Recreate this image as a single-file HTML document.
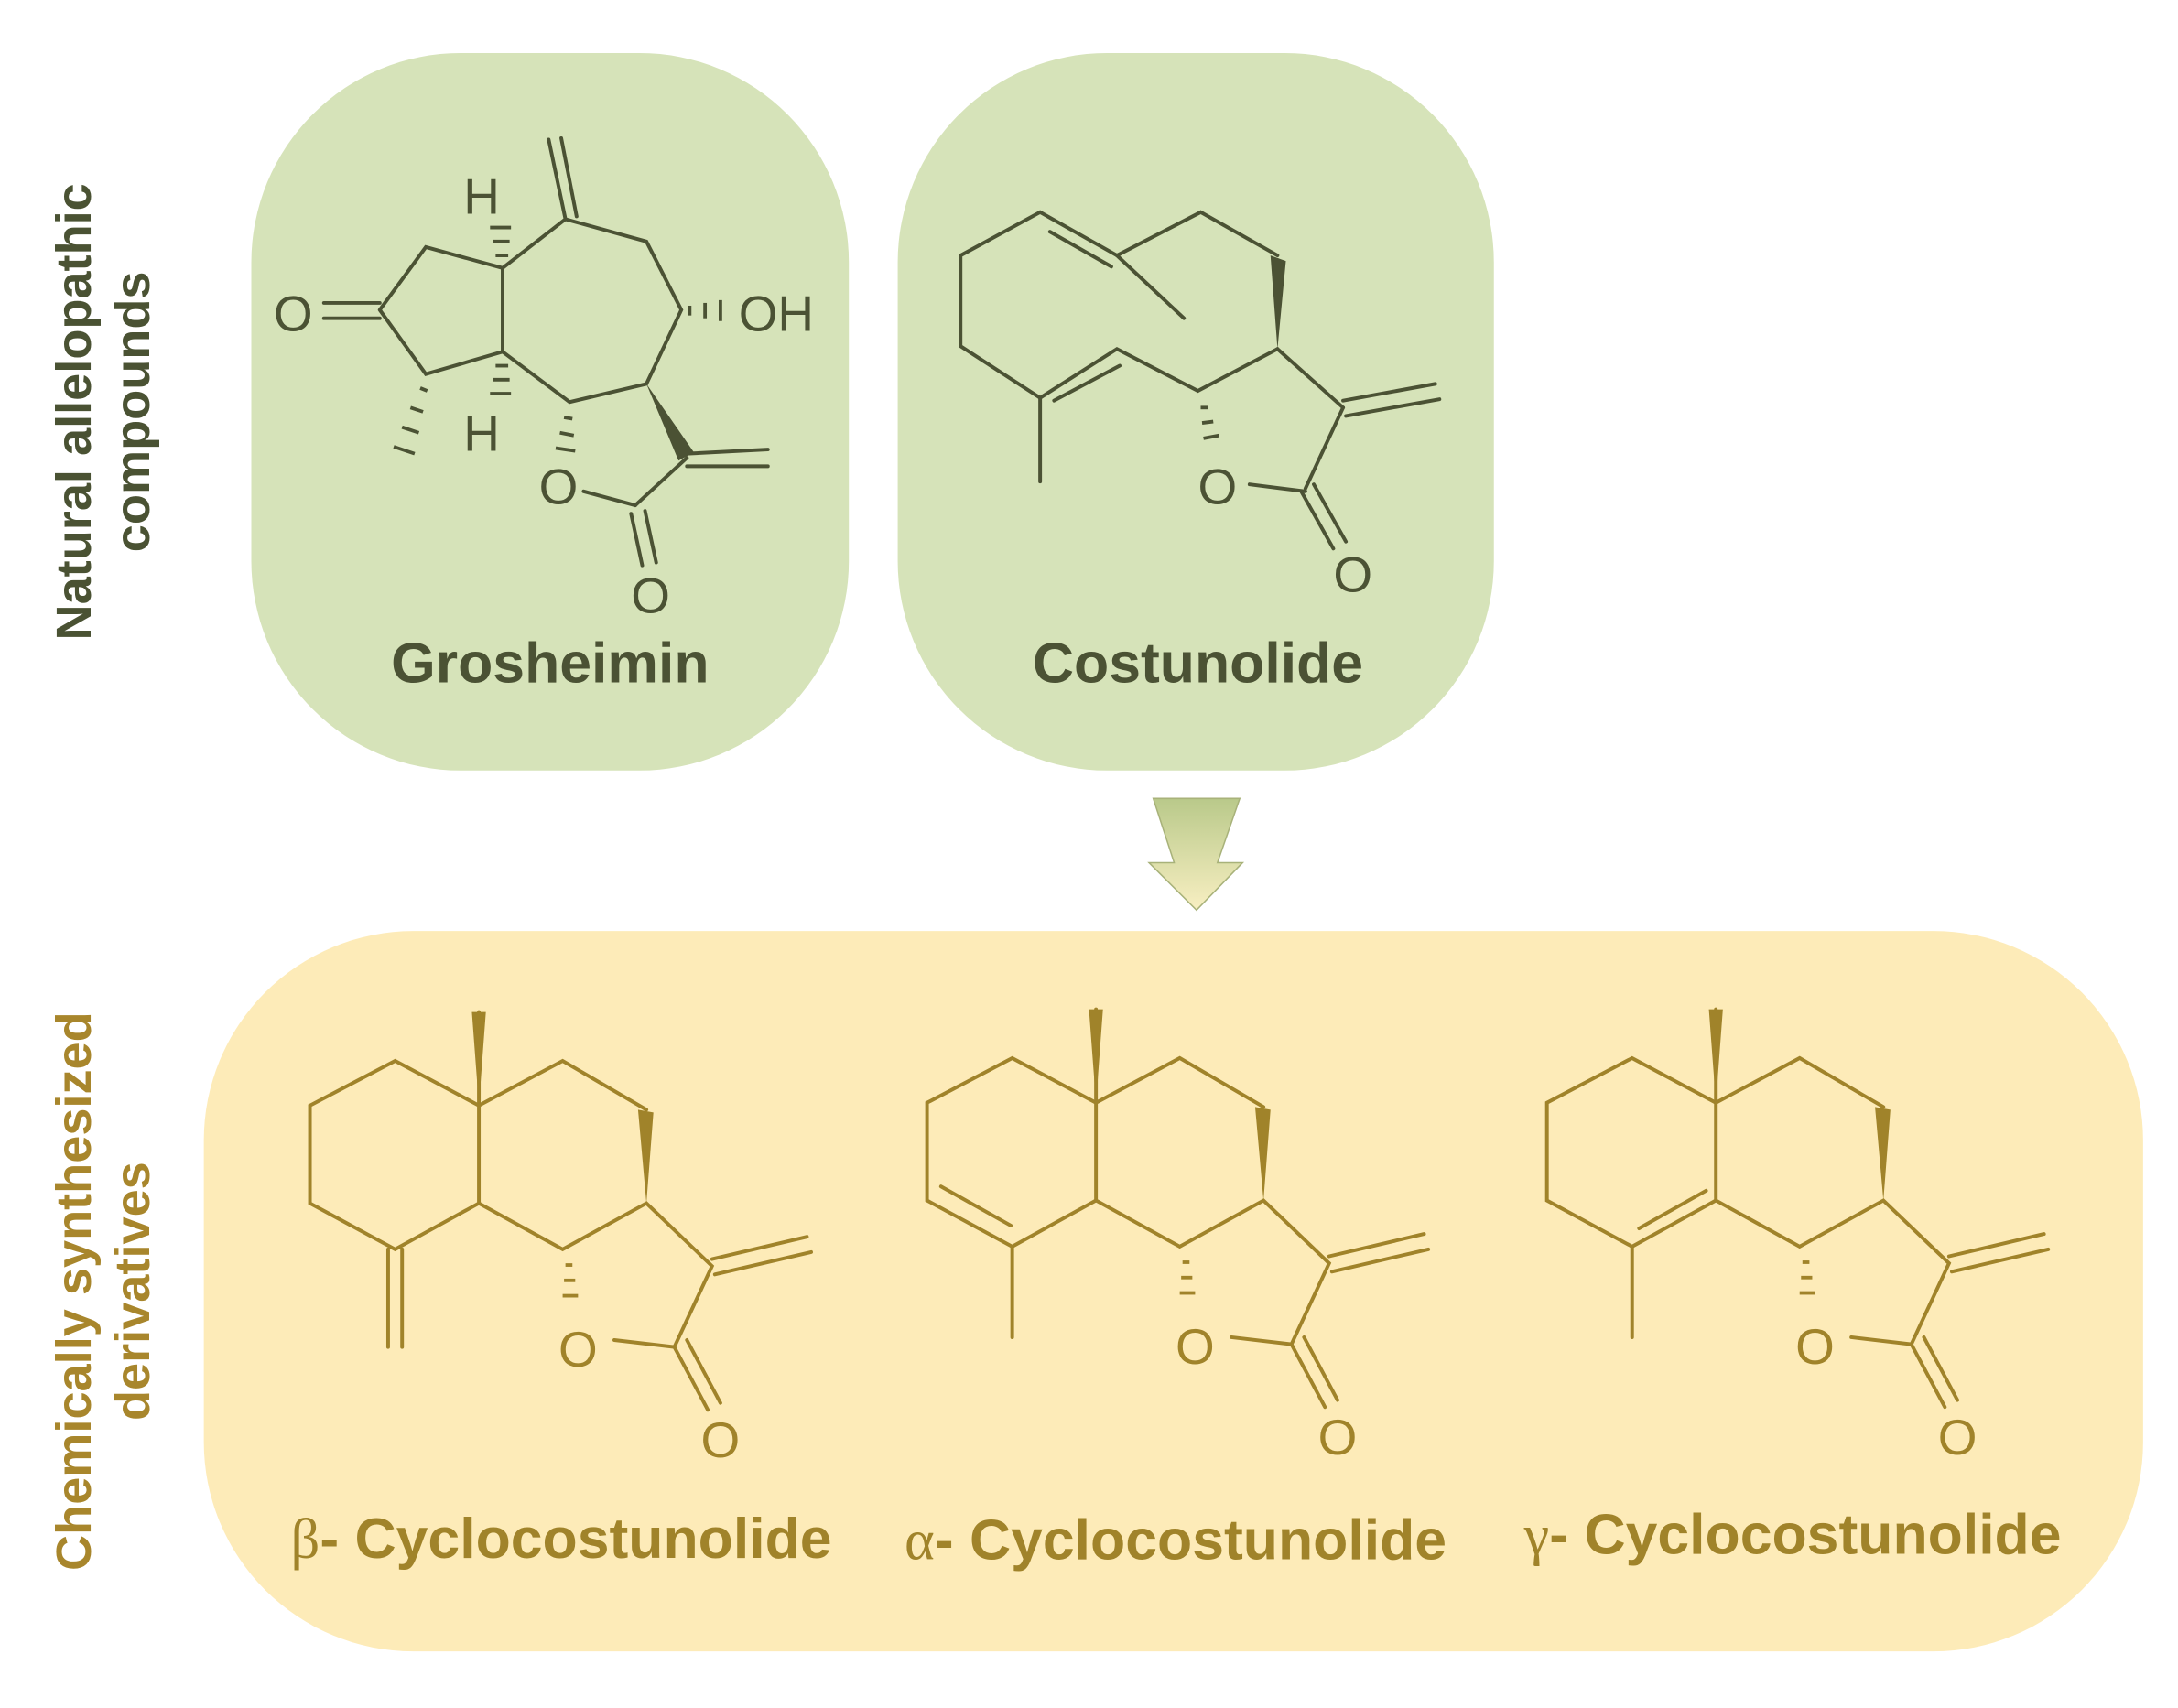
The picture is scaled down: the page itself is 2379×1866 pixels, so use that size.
<!DOCTYPE html>
<html><head><meta charset="utf-8"><style>
html,body{margin:0;padding:0;background:#fff;}
svg{display:block;}
text{font-family:"Liberation Sans",sans-serif;}
</style></head><body>
<svg width="2379" height="1866" viewBox="0 0 1560 1223.6" preserveAspectRatio="none" xmlns="http://www.w3.org/2000/svg">
<defs>
<linearGradient id="ag" x1="0" y1="0" x2="0" y2="1">
<stop offset="0" stop-color="#b9c98a"/><stop offset="1" stop-color="#f8efc2"/>
</linearGradient>
</defs>
<rect x="180" y="38" width="428" height="514" rx="150" fill="#d6e3b9"/>
<rect x="643" y="38" width="427" height="514" rx="150" fill="#d6e3b9"/>
<rect x="146" y="667" width="1389" height="516" rx="150" fill="#fdebb8"/>
<polygon points="826,572 888,572 872,618 890,618 857,652 823,618 841,618" fill="url(#ag)" stroke="#a8b27a" stroke-width="1"/>

<g font-weight="bold" font-size="35.5" text-anchor="middle">
<text transform="translate(65,295) rotate(-90)" fill="#4a5233">Natural allelopathic</text>
<text transform="translate(107,295) rotate(-90)" fill="#4a5233">compounds</text>
<text transform="translate(65,925) rotate(-90)" fill="#a8862c">Chemically synthesized</text>
<text transform="translate(107,925) rotate(-90)" fill="#a8862c">derivatives</text>
</g>

<!-- Grosheimin -->
<g stroke="#4b5234" stroke-width="2.6" fill="none" stroke-linecap="round">
<polyline points="272,222 305,177 360,192 360,252 305,268 272,222"/>
<line x1="272" y1="217" x2="232" y2="217"/><line x1="272" y1="228" x2="232" y2="228"/>
<polyline points="360,192 405,157 463,173 488,222 463,275 408,288 360,252"/>
<line x1="405" y1="157" x2="393" y2="100"/><line x1="413" y1="155" x2="402" y2="99"/>
<line x1="418" y1="352" x2="455" y2="362"/>
<line x1="455" y1="362" x2="492" y2="328"/>
<line x1="452" y1="368" x2="460" y2="405"/><line x1="462" y1="366" x2="470" y2="403"/>
<line x1="492" y1="325" x2="550" y2="322"/><line x1="492" y1="334" x2="550" y2="334"/>
</g>
<polygon points="463,275 486,330 497,324" fill="#4b5234"/>
<g stroke="#4b5234" stroke-width="2.5">
<line x1="494" y1="219" x2="494" y2="226"/><line x1="505" y1="217" x2="505" y2="228"/><line x1="516" y1="215" x2="516" y2="230"/>
<line x1="355" y1="183" x2="364" y2="183"/><line x1="353" y1="173" x2="365" y2="173"/><line x1="351" y1="163" x2="366" y2="163"/>
<line x1="355" y1="262" x2="364" y2="262"/><line x1="353" y1="272" x2="365" y2="272"/><line x1="351" y1="282" x2="366" y2="282"/>
<line x1="301" y1="278" x2="306" y2="280"/><line x1="294" y1="292" x2="303" y2="295"/><line x1="288" y1="306" x2="300" y2="310"/><line x1="282" y1="320" x2="297" y2="325"/>
<line x1="404" y1="299" x2="410" y2="300"/><line x1="401" y1="310" x2="411" y2="312"/><line x1="398" y1="321" x2="412" y2="323"/>
</g>
<g fill="#4b5234" font-size="36">
<text x="196" y="237">O</text>
<text x="529" y="237">OH</text>
<text x="332" y="153">H</text>
<text x="332" y="323">H</text>
<text x="386" y="361">O</text>
<text x="452" y="439">O</text>
</g>
<text x="394" y="489" font-size="41" font-weight="bold" fill="#4b5234" text-anchor="middle">Grosheimin</text>

<!-- Costunolide -->
<g stroke="#4b5234" stroke-width="2.6" fill="none" stroke-linecap="round">
<polyline points="800,183 745,152 688,183 688,248 745,285 800,250 858,280 915,250"/>
<polyline points="915,183 860,152 800,183 848,228"/>
<line x1="752" y1="166" x2="796" y2="191"/>
<line x1="755" y1="287" x2="802" y2="262"/>
<line x1="745" y1="285" x2="745" y2="345"/>
<line x1="915" y1="250" x2="962" y2="292"/>
<line x1="962" y1="292" x2="935" y2="350"/>
<line x1="895" y1="347" x2="935" y2="352"/>
<line x1="932" y1="352" x2="955" y2="393"/><line x1="941" y1="347" x2="964" y2="388"/>
<line x1="962" y1="287" x2="1028" y2="275"/><line x1="964" y1="298" x2="1031" y2="286"/>
</g>
<polygon points="915,250 910,183 921,187" fill="#4b5234"/>
<g stroke="#4b5234" stroke-width="2.5">
<line x1="860" y1="292" x2="865" y2="292"/><line x1="861" y1="303" x2="869" y2="302"/><line x1="862" y1="314" x2="873" y2="312"/>
</g>
<g fill="#4b5234" font-size="36">
<text x="858" y="361">O</text><text x="955" y="424">O</text>
</g>
<text x="858" y="489" font-size="41" font-weight="bold" fill="#4b5234" text-anchor="middle">Costunolide</text>

<defs>
<g id="core">
<polyline points="343,792 283,760 222,792 222,862 283,895 343,862" />
<polyline points="343,725 343,862 403,895 463,862 510,907 483,965 440,960"/>
<polyline points="343,792 403,760 463,795"/>
<line x1="483" y1="965" x2="507" y2="1010"/><line x1="492" y1="960" x2="516" y2="1005"/>
<line x1="510" y1="902" x2="578" y2="886"/><line x1="512" y1="913" x2="581" y2="897"/>
</g>
</defs>
<g fill="none" stroke="#a0832a" stroke-width="2.6" stroke-linecap="round">
<use href="#core"/>
<line x1="278" y1="895" x2="278" y2="965"/><line x1="288" y1="895" x2="288" y2="965"/>
</g>
<g transform="translate(442,-2)" fill="none" stroke="#a0832a" stroke-width="2.6" stroke-linecap="round">
<use href="#core"/>
<line x1="232" y1="852" x2="282" y2="880"/>
<line x1="283" y1="895" x2="283" y2="960"/>
</g>
<g transform="translate(886,-2)" fill="none" stroke="#a0832a" stroke-width="2.6" stroke-linecap="round">
<use href="#core"/>
<line x1="288" y1="882" x2="336" y2="855"/>
<line x1="283" y1="895" x2="283" y2="960"/>
</g>
<g fill="#a0832a">
<g id="marks">
<polygon points="343,792 338,725 348,725"/>
<polygon points="463,862 457,795 468,797"/>
<rect x="405" y="905" width="5" height="2.5"/><rect x="404" y="916" width="8" height="2.5"/><rect x="403" y="927" width="11" height="2.5"/>
<text x="400" y="979" font-size="36">O</text><text x="502" y="1044" font-size="36">O</text>
</g>
<use href="#marks" transform="translate(442,-2)"/>
<use href="#marks" transform="translate(886,-2)"/>
</g>
<g font-size="41" font-weight="bold" fill="#a0832a" text-anchor="middle">
<text x="402" y="1116"><tspan font-weight="normal" font-family="Liberation Serif">β</tspan>- Cyclocostunolide</text>
<text x="842" y="1117"><tspan font-weight="normal" font-family="Liberation Serif">α</tspan>- Cyclocostunolide</text>
<text x="1284" y="1113"><tspan font-weight="normal" font-family="Liberation Serif">γ</tspan>- Cyclocostunolide</text>
</g>
</svg>
</body></html>
